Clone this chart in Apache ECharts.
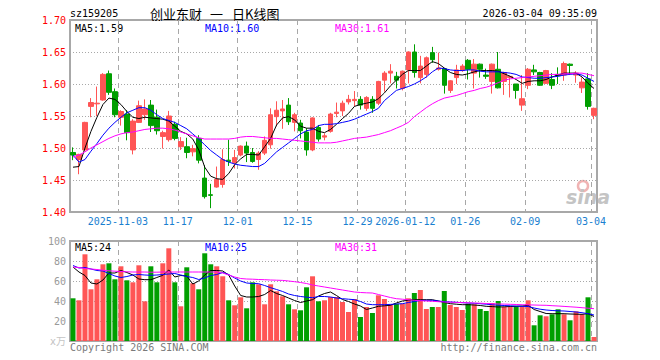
<!DOCTYPE html>
<html><head><meta charset="utf-8">
<script src="https://cdn.jsdelivr.net/npm/echarts@6/dist/echarts.min.js"></script>
<style>html,body{margin:0;padding:0;background:#fff}#c{width:660px;height:360px}</style>
</head><body><div id="c"></div>
<script>
const dates = [
'2025-10-22','2025-10-23','2025-10-24','2025-10-27','2025-10-28','2025-10-29','2025-10-30','2025-10-31',
'2025-11-03','2025-11-04','2025-11-05','2025-11-06','2025-11-07','2025-11-10','2025-11-11','2025-11-12','2025-11-13','2025-11-14',
'2025-11-17','2025-11-18','2025-11-19','2025-11-20','2025-11-21','2025-11-24','2025-11-25','2025-11-26','2025-11-27','2025-11-28',
'2025-12-01','2025-12-02','2025-12-03','2025-12-04','2025-12-05','2025-12-08','2025-12-09','2025-12-10','2025-12-11','2025-12-12',
'2025-12-15','2025-12-16','2025-12-17','2025-12-18','2025-12-19','2025-12-22','2025-12-23','2025-12-24','2025-12-25','2025-12-26',
'2025-12-29','2025-12-30','2025-12-31','2026-01-05','2026-01-06','2026-01-07','2026-01-08','2026-01-09',
'2026-01-12','2026-01-13','2026-01-14','2026-01-15','2026-01-16','2026-01-19','2026-01-20','2026-01-21','2026-01-22','2026-01-23',
'2026-01-26','2026-01-27','2026-01-28','2026-01-29','2026-01-30','2026-02-02','2026-02-03','2026-02-04','2026-02-05','2026-02-06',
'2026-02-09','2026-02-10','2026-02-11','2026-02-12','2026-02-13','2026-02-24','2026-02-25','2026-02-26','2026-02-27',
'2026-03-02','2026-03-03','2026-03-04'];

const open = [1.493,1.482,1.497,1.565,1.569,1.575,1.616,1.588,1.548,1.553,1.497,1.540,1.552,1.567,1.548,1.518,1.513,1.537,
1.502,1.502,1.494,1.515,1.453,1.427,1.439,1.443,1.481,1.477,1.489,1.503,1.493,1.482,1.492,1.505,1.549,1.558,1.567,1.540,
1.539,1.525,1.497,1.532,1.517,1.526,1.554,1.558,1.572,1.574,1.576,1.562,1.576,1.570,1.606,1.617,1.612,1.593,
1.622,1.650,1.610,1.615,1.649,1.623,1.624,1.590,1.610,1.621,1.637,1.617,1.631,1.614,1.604,1.623,1.604,1.610,1.600,1.567,
1.598,1.622,1.618,1.601,1.607,1.615,1.614,1.631,1.614,1.594,1.608,1.551];
const close = [1.489,1.490,1.540,1.571,1.570,1.615,1.587,1.552,1.557,1.524,1.542,1.566,1.561,1.535,1.527,1.524,1.550,1.515,
1.510,1.493,1.499,1.481,1.424,1.426,1.451,1.482,1.479,1.485,1.503,1.492,1.479,1.492,1.512,1.552,1.559,1.561,1.541,1.552,
1.527,1.497,1.547,1.514,1.519,1.553,1.556,1.570,1.576,1.576,1.567,1.579,1.562,1.604,1.617,1.620,1.606,1.620,
1.650,1.618,1.628,1.641,1.638,1.625,1.598,1.605,1.622,1.628,1.623,1.631,1.623,1.612,1.631,1.594,1.618,1.612,1.590,1.577,
1.623,1.619,1.598,1.621,1.598,1.613,1.632,1.629,1.617,1.603,1.565,1.562];
const low = [1.481,1.459,1.495,1.548,1.550,1.574,1.583,1.548,1.535,1.512,1.490,1.539,1.544,1.525,1.521,1.499,1.510,1.512,
1.497,1.484,1.487,1.476,1.421,1.406,1.438,1.438,1.472,1.468,1.487,1.478,1.477,1.466,1.489,1.499,1.534,1.530,1.536,1.526,
1.515,1.488,1.495,1.510,1.512,1.524,1.548,1.550,1.568,1.565,1.560,1.558,1.555,1.567,1.588,1.601,1.593,1.590,
1.601,1.610,1.601,1.610,1.633,1.621,1.585,1.586,1.600,1.619,1.607,1.593,1.610,1.608,1.585,1.593,1.583,1.579,1.577,1.558,
1.592,1.614,1.597,1.600,1.592,1.600,1.605,1.614,1.602,1.586,1.560,1.545];
const high = [1.501,1.491,1.541,1.578,1.596,1.617,1.621,1.593,1.559,1.559,1.545,1.574,1.576,1.575,1.560,1.527,1.558,1.541,
1.517,1.516,1.505,1.520,1.473,1.444,1.471,1.498,1.513,1.497,1.504,1.510,1.500,1.495,1.518,1.562,1.573,1.575,1.578,1.555,
1.544,1.531,1.548,1.536,1.523,1.555,1.571,1.574,1.583,1.589,1.581,1.581,1.581,1.605,1.620,1.631,1.619,1.621,
1.651,1.662,1.644,1.643,1.658,1.649,1.625,1.606,1.630,1.631,1.639,1.639,1.632,1.624,1.632,1.650,1.619,1.613,1.600,1.614,
1.625,1.630,1.619,1.622,1.617,1.626,1.635,1.632,1.620,1.610,1.617,1.563];

const ma5 = [1.470,1.471,1.500,1.526,1.548,1.568,1.578,1.576,1.568,1.557,1.548,1.546,1.548,1.547,1.546,1.545,1.542,1.534,
1.526,1.522,1.514,1.497,1.470,1.456,1.452,1.451,1.460,1.474,1.483,1.490,1.490,1.489,1.502,1.515,1.536,1.547,1.549,1.544,
1.534,1.531,1.531,1.526,1.524,1.529,1.537,1.546,1.554,1.565,1.568,1.570,1.572,1.577,1.586,1.597,1.606,1.615,
1.621,1.621,1.621,1.628,1.635,1.632,1.625,1.618,1.615,1.614,1.616,1.619,1.621,1.621,1.621,1.620,1.616,1.612,1.607,1.601,
1.604,1.605,1.605,1.607,1.611,1.614,1.617,1.617,1.617,1.611,1.601,1.593];
const ma10 = [1.489,1.478,1.482,1.495,1.507,1.520,1.531,1.540,1.548,1.555,1.559,1.563,1.563,1.559,1.552,1.546,1.543,1.540,
1.535,1.530,1.522,1.514,1.505,1.496,1.489,1.482,1.478,1.475,1.473,1.472,1.471,1.471,1.476,1.485,1.494,1.501,1.508,1.515,
1.522,1.527,1.529,1.535,1.537,1.537,1.538,1.540,1.542,1.545,1.549,1.553,1.557,1.562,1.574,1.582,1.590,1.593,
1.596,1.600,1.605,1.611,1.619,1.625,1.624,1.622,1.621,1.621,1.622,1.622,1.620,1.619,1.619,1.619,1.618,1.617,1.615,1.611,
1.610,1.609,1.609,1.610,1.611,1.612,1.614,1.615,1.616,1.614,1.609,1.604];
const ma30 = [1.486,1.489,1.494,1.500,1.505,1.510,1.515,1.519,1.522,1.524,1.525,1.527,1.529,1.530,1.531,1.531,1.530,1.528,
1.525,1.522,1.519,1.516,1.514,1.514,1.514,1.514,1.514,1.515,1.517,1.518,1.518,1.517,1.516,1.515,1.515,1.514,1.513,1.512,
1.511,1.510,1.509,1.508,1.508,1.508,1.509,1.511,1.513,1.515,1.516,1.517,1.519,1.521,1.524,1.527,1.531,1.535,
1.540,1.549,1.556,1.563,1.569,1.574,1.578,1.580,1.582,1.585,1.588,1.590,1.593,1.595,1.598,1.602,1.606,1.608,1.609,1.610,
1.611,1.612,1.613,1.614,1.615,1.615,1.616,1.616,1.617,1.617,1.615,1.613];

const vol = [42.7,40.7,86.7,51.7,61.7,76.7,77.7,61.7,74.7,60.7,58.7,75.7,39.7,74.7,58.7,77.7,92.7,58.7,
34.7,73.7,57.7,51.7,87.7,76.7,74.7,64.7,40.7,35.7,43.7,32.7,58.7,56.7,36.7,56.7,49.7,44.7,36.7,31.7,
30.7,53.7,64.7,39.7,40.7,44,44,39,29,42,24,34,28,45.7,42,36.7,37.3,37.3,
42.7,48,51,32,34,34,50,36,34,31,37.3,36.7,32,30,38,40,34,34,34.7,34.7,
40.7,15.7,25.7,24.7,26.7,31.7,26.7,20.7,29.7,26.7,43.7,4];
const vma5 = [74,69,65.5,58,57,61,68,68,70.5,68.5,66,62,61.3,61.3,63.5,65.7,71,64,
65.5,65,57,60,66,70.5,70.5,70,66,55,45.5,44,44,44.5,46.5,50.5,47.5,45.5,43,40.5,
38.5,40,41.3,45,47.5,49,45.5,41.5,39.5,37,35,31.5,33,34.7,35.2,35.7,38,40,
40.7,41.3,41.3,41.3,41.3,40,38.5,37.3,36.8,36.3,36.3,36,35.5,34.7,34.4,34,34.2,34.5,34.7,35,
35.7,31.5,29.5,27.5,27.3,27.3,27.3,27,26.8,26.7,27.3,24.5];
const vma10 = [75.5,73,73.5,72,70.5,70,67.5,65,63.5,64.5,66,66.5,66,65.7,66,66.5,67,67.5,
66,64.5,63.5,61.5,63,65.5,66.5,68.5,66.5,63,60,58,57.5,57.3,55.5,53.3,51.5,49.5,47,45.5,
44.5,43.8,43.3,44.5,44.5,44,43,42.3,41.8,41.3,39.5,37,36.3,36.3,36.3,36.6,37,37.3,
38.5,39.5,40.5,40.7,40.7,40,39.3,39,38.7,38.3,38,37.7,37.3,36.8,36.3,35.8,35.5,35.2,34.9,34.7,
34.5,33,31.8,31,30.5,30.2,30,29.5,29,28.3,27.3,26];
const vma30 = [74,73.5,72.5,72,71.5,70.8,70.2,69.8,69.5,69.2,69,69,69,68.8,68.8,69,69,69,
69,69,69,69,69,69,69,68,66,64,62.5,62,61.8,61.5,61.3,61,60.8,60.6,60,59.3,
58.5,57.5,56,55,54,53,52,51,50,49,48.5,48.2,48,46.5,45,43.5,42.3,41.8,
41.2,40.7,40.3,40,39.7,39.3,39,38.8,38.6,38.4,38.2,38,37.8,37.5,37.3,37,36.9,36.7,36.5,36.3,
36.1,36,35.8,35.7,35.3,35,34.6,34.2,33.8,33.3,32.8,32.3];

const tickDates = ['2025-11-03','2025-11-17','2025-12-01','2025-12-15','2025-12-29','2026-01-12','2026-01-26','2026-02-09','2026-03-04'];
const tickLabels = ['2025-11-03','11-17','12-01','12-15','12-29','2026-01-12','01-26','02-09','03-04'];
const priceTicks = [1.40,1.45,1.50,1.55,1.60,1.65,1.70];

const UP = '#ff5555', DOWN = '#009f00';
const MONO = "'DejaVu Sans Mono','Liberation Mono',monospace";
const CJK = "'Noto Sans CJK SC','Noto Sans CJK JP',sans-serif";
const candles = dates.map((d,i)=>[open[i],close[i],low[i],high[i]]);
const isTick = (i)=> tickDates.indexOf(dates[i]) >= 0;

const chart = echarts.init(document.getElementById('c'), null, {renderer:'svg'});
const splitV = {show:true, interval:(i)=>isTick(i), lineStyle:{color:'#a8a8a8', type:[5,4], width:1}};
const dotted = {show:true, lineStyle:{color:'#a8a8a8', type:[1,2], width:1}};
function txt(x,y,text,fill,opts){
  return {type:'text', x:x, y:y, silent:true, style:Object.assign({text:text, fill:fill, font:'10px '+MONO, textAlign:'left', textVerticalAlign:'middle', align:'left', verticalAlign:'middle'}, opts||{})};
}
chart.setOption({
  animation:false,
  backgroundColor:'#fff',
  grid:[
    {left:70, top:20, width:527, height:192, show:true, borderColor:'#a8a8a8', borderWidth:2, backgroundColor:'transparent'},
    {left:70, top:241, width:527, height:100, show:true, borderColor:'#a8a8a8', borderWidth:2, backgroundColor:'transparent'}
  ],
  xAxis:[
    {type:'category', gridIndex:0, data:dates, boundaryGap:true,
     axisLine:{show:false}, axisTick:{show:false},
     axisLabel:{interval:(i)=>isTick(i), formatter:(v)=>tickLabels[tickDates.indexOf(v)] || '', color:'#1a7fd0', fontFamily:MONO, fontSize:10, margin:4, padding:[0,6,0,0]},
     splitLine:splitV},
    {type:'category', gridIndex:1, data:dates, boundaryGap:true,
     axisLine:{show:false}, axisTick:{show:false}, axisLabel:{show:false},
     splitLine:splitV}
  ],
  yAxis:[
    {type:'value', gridIndex:0, min:priceTicks[0], max:priceTicks[priceTicks.length-1], interval:0.05,
     axisLine:{show:false}, axisTick:{show:false},
     axisLabel:{color:'#ff0000', fontFamily:MONO, fontSize:10, margin:4, formatter:(v)=>v.toFixed(2)},
     splitLine:dotted},
    {type:'value', gridIndex:1, min:0, max:100, interval:20,
     axisLine:{show:false}, axisTick:{show:false},
     axisLabel:{color:'#9a9a9a', fontFamily:MONO, fontSize:10, margin:4,
       formatter:(v)=> v===0 ? '{u|x万}' : String(v),
       rich:{u:{color:'#c4c4c4', fontSize:10, fontFamily:"'DejaVu Sans','Noto Sans CJK SC',sans-serif"}}},
     splitLine:dotted}
  ],
  graphic:[
    txt(70,13,'sz159205','#000'),
    txt(150,13,'创业东财','#000',{font:'13px '+CJK}),
    txt(210,13,'一','#000',{font:'13px '+CJK}),
    txt(232,13,'日K线图','#000',{font:'13px '+CJK}),
    txt(597,13,'2026-03-04 09:35:09','#000',{textAlign:'right', align:'right'}),
    txt(75,28,'MA5:1.59','#000'),
    txt(205,28,'MA10:1.60','#0000ff'),
    txt(335,28,'MA30:1.61','#ff00ff'),
    txt(75,247,'MA5:24','#000'),
    txt(205,247,'MA10:25','#0000ff'),
    txt(335,247,'MA30:31','#ff00ff'),
    txt(70,347,'Copyright 2026 SINA.COM','#7a7a7a'),
    txt(597,347,'http://finance.sina.com.cn','#7a7a7a',{textAlign:'right', align:'right'}),
    {type:'circle', silent:true, shape:{cx:583, cy:186, r:5}, style:{fill:'none', stroke:'#f0b4b4', lineWidth:2.5}},
    txt(566,197,'sina','#c4c4c4',{font:"italic bold 19px 'DejaVu Sans'"})
  ],
  series:[
    {type:'candlestick', xAxisIndex:0, yAxisIndex:0, data:candles, barWidth:5,
     itemStyle:{color:UP, color0:DOWN, borderColor:UP, borderColor0:DOWN, borderWidth:1}},
    {type:'line', xAxisIndex:0, yAxisIndex:0, data:ma5, symbol:'none', lineStyle:{color:'#000', width:1}},
    {type:'line', xAxisIndex:0, yAxisIndex:0, data:ma10, symbol:'none', lineStyle:{color:'#0000ff', width:1}},
    {type:'line', xAxisIndex:0, yAxisIndex:0, data:ma30, symbol:'none', lineStyle:{color:'#ff00ff', width:1}},
    {type:'bar', xAxisIndex:1, yAxisIndex:1, data:vol, barWidth:5,
     itemStyle:{color:(p)=> close[p.dataIndex] >= open[p.dataIndex] ? UP : DOWN}},
    {type:'line', xAxisIndex:1, yAxisIndex:1, data:vma5, symbol:'none', lineStyle:{color:'#000', width:1}},
    {type:'line', xAxisIndex:1, yAxisIndex:1, data:vma10, symbol:'none', lineStyle:{color:'#0000ff', width:1}},
    {type:'line', xAxisIndex:1, yAxisIndex:1, data:vma30, symbol:'none', lineStyle:{color:'#ff00ff', width:1}}
  ]
});
</script></body></html>
